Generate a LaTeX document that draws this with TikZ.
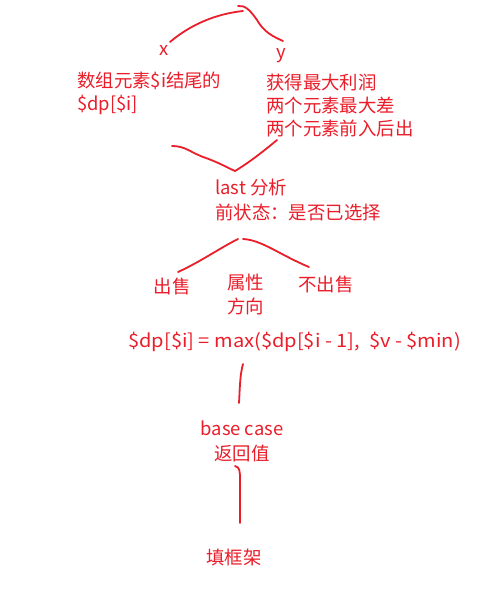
\documentclass[tikz,border=0pt]{standalone}
\usepackage{fontspec}
\setmainfont{Noto Sans CJK SC}
\definecolor{ink}{RGB}{234,30,42}
\begin{document}
\begin{tikzpicture}[x=1pt,y=-1pt,
  txt/.style={text=ink,inner sep=0pt,font=\fontsize{18.4}{23}\selectfont},
  stroke/.style={draw=ink,line width=1.8pt,line cap=round,line join=round}]
\useasboundingbox[fill=white] (0,0) rectangle (496,612);
% top labels
\node[txt] (x) at (164,51) {x};
\node[txt] (y) at (281,56) {y};
\node[txt,anchor=west,align=left] (xdesc) at (77,93.5) {数组元素\$i结尾的\\\$dp[\$i]};
\node[txt,anchor=west,align=left] (ydesc) at (266,105) {获得最大利润\\两个元素最大差\\两个元素前入后出};
\node[txt,anchor=west,align=left] (last) at (215,200.5) {last 分析\\[2pt]前状态：是否已选择};
\node[txt] (sell) at (172,287) {出售};
\node[txt,align=center] (attr) at (245.5,295) {属性\\[1pt]方向};
\node[txt] (nosell) at (326,285) {不出售};
\node[txt] (formula) at (294.5,342) {\scalebox{1.09}[1]{\$dp[\$i] = max(\$dp[\$i - 1],\ \ \$v - \$min)}};
\node[txt,align=center] (base) at (242,441) {base case\\[2pt]返回值};
\node[txt] (frame) at (234,557) {填框架};
% top fork
\draw[stroke] (170,42) .. controls (190,25) and (215,14) .. (243,11);
\draw[stroke] (238,6) .. controls (245,5) and (250,10) .. (257,20)
  .. controls (264,32) and (272,36) .. (283,41);
% lower join
\draw[stroke] (172,146) .. controls (185,146) and (190,152) .. (203,157)
  .. controls (218,162) and (228,168) .. (235,171)
  .. controls (250,162) and (265,150) .. (277,140);
% second fork
\draw[stroke] (178,272) .. controls (200,262) and (220,248) .. (238,239);
\draw[stroke] (243,239) .. controls (262,240) and (280,255) .. (309,267);
% verticals
\draw[stroke] (243,364) .. controls (240,375) and (240,385) .. (239,403);
\draw[stroke] (235,466) .. controls (240,467) and (240,472) .. (240,480) -- (240,523);
\end{tikzpicture}
\end{document}
